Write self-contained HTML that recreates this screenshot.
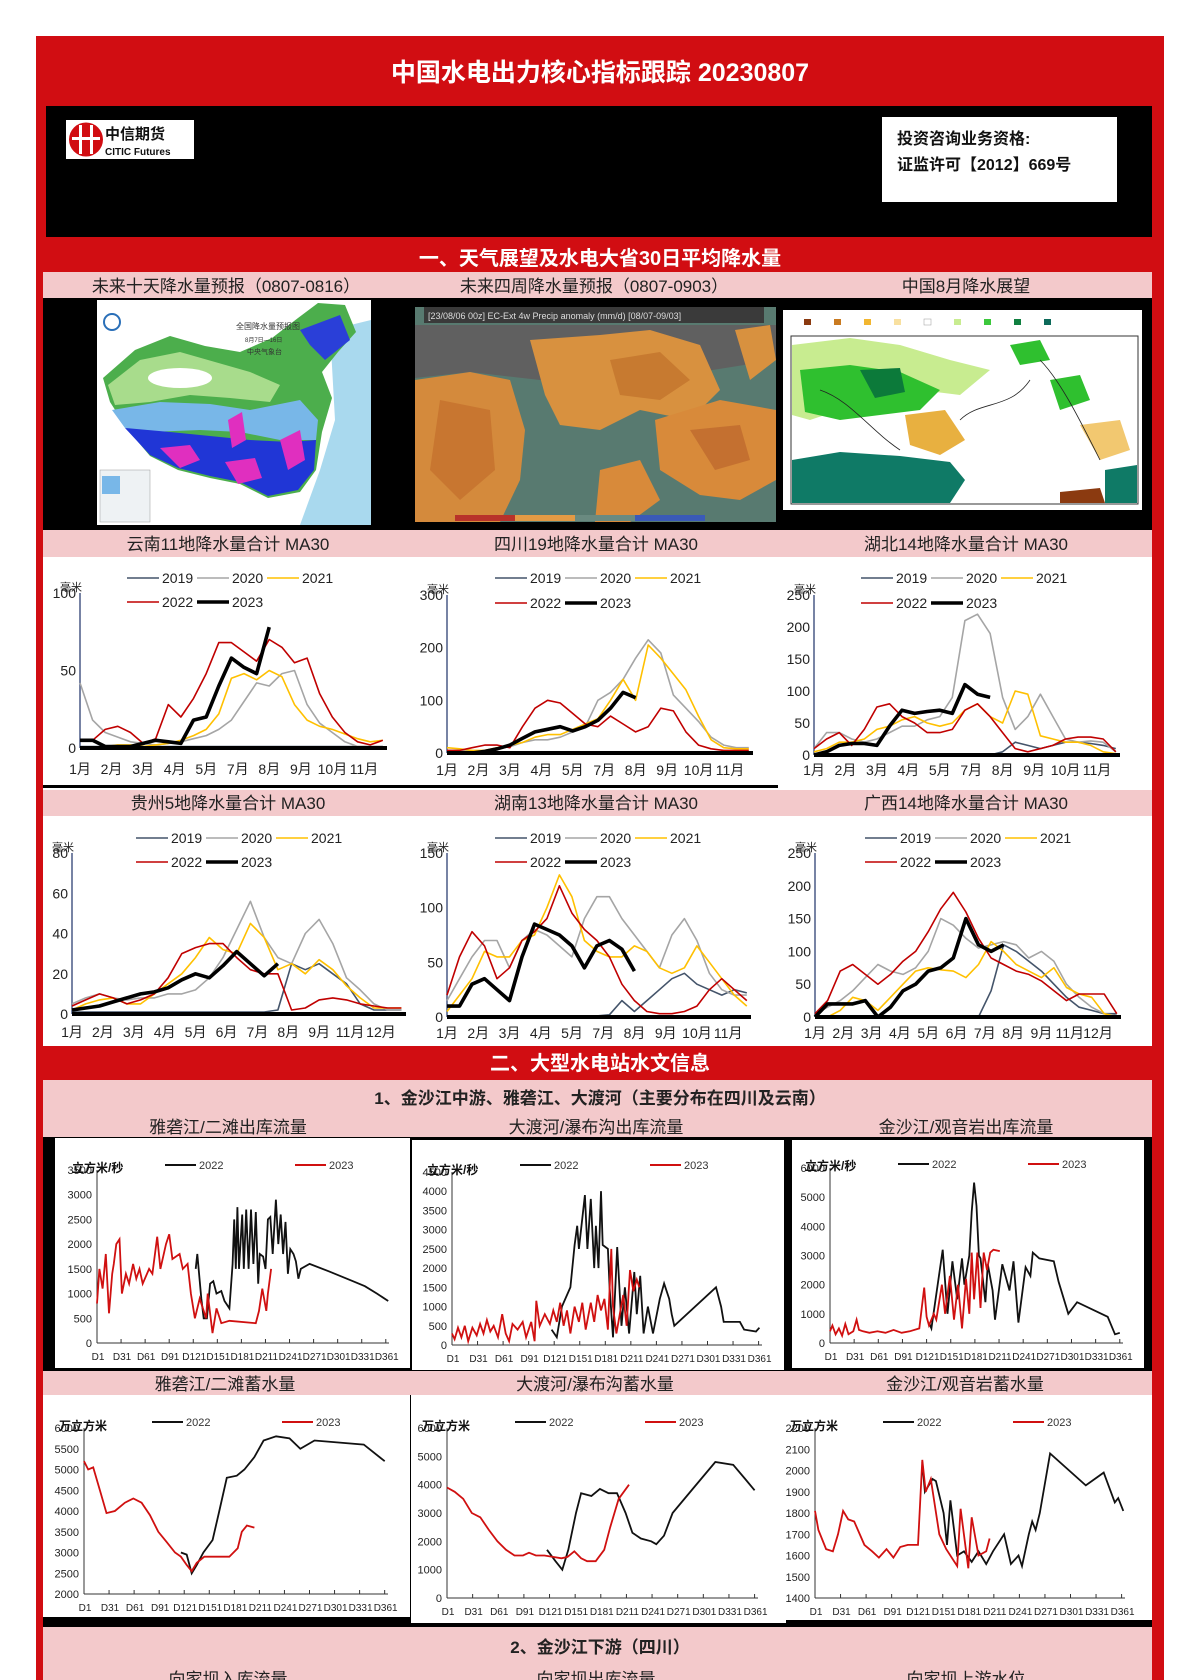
<!DOCTYPE html>
<html lang="zh">
<head>
<meta charset="utf-8">
<title>中国水电出力核心指标跟踪 20230807</title>
<style>
html,body{margin:0;padding:0;background:#fff;}
body{width:1188px;height:1680px;overflow:hidden;font-family:"Liberation Sans","Noto Sans CJK SC",sans-serif;}
svg{display:block;}
svg text{font-family:"Liberation Sans","Noto Sans CJK SC",sans-serif;}
</style>
</head>
<body>
<svg id="page" width="1188" height="1680" viewBox="0 0 1188 1680" xmlns="http://www.w3.org/2000/svg">
  <rect x="0" y="0" width="1188" height="1680" fill="#fff"/>
  <rect x="36" y="36" width="1128" height="1644" fill="#d10d12"/>
  <text x="600" y="81" text-anchor="middle" fill="#fff" font-size="25" font-weight="bold">中国水电出力核心指标跟踪  20230807</text>

  <!-- header black block -->
  <rect x="46" y="106" width="1106" height="131" fill="#000"/>
  <g>
    <rect x="66" y="120" width="128" height="39" fill="#fff"/>
    <circle cx="86" cy="139.5" r="17" fill="#d10d12"/>
    <rect x="79" y="125" width="3" height="29" fill="#fff"/>
    <rect x="90" y="125" width="3" height="29" fill="#fff"/>
    <rect x="72" y="137" width="28" height="3" fill="#fff"/>
    <text x="105" y="139" font-size="15" font-weight="bold" fill="#111">中信期货</text>
    <text x="105" y="155" font-size="10" font-weight="bold" fill="#111">CITIC Futures</text>
  </g>
  <rect x="882" y="117" width="235" height="85" fill="#fff"/>
  <text x="897" y="144" font-size="16" font-weight="bold" fill="#111">投资咨询业务资格:</text>
  <text x="897" y="170" font-size="16" font-weight="bold" fill="#111">证监许可【2012】669号</text>

  <text x="600" y="265" text-anchor="middle" fill="#fff" font-size="20" font-weight="bold">一、天气展望及水电大省30日平均降水量</text>

  <!-- map title bar -->
  <rect x="43" y="272" width="1109" height="26" fill="#f3c9cb"/>
  <text x="226" y="292" text-anchor="middle" font-size="17" fill="#222">未来十天降水量预报（0807-0816）</text>
  <text x="594" y="292" text-anchor="middle" font-size="17" fill="#222">未来四周降水量预报（0807-0903）</text>
  <text x="966" y="292" text-anchor="middle" font-size="17" fill="#222">中国8月降水展望</text>

  <rect x="43" y="298" width="1109" height="232" fill="#000"/>

  <!-- Map 1 -->
  <g>
    <rect x="97" y="300" width="274" height="225" fill="#fff"/>
    <path d="M330,330 L371,320 L371,525 L300,525 L320,470 L335,420 Z" fill="#a9d9ee"/>
    <path d="M103,378 L135,350 L170,336 L205,346 L240,352 L272,338 L298,318 L318,303 L345,305 L356,332 L338,352 L322,372 L332,398 L322,432 L316,470 L300,492 L268,498 L240,484 L210,478 L178,470 L150,456 L128,430 L110,402 Z" fill="#4cae4c"/>
    <path d="M108,385 L140,360 L180,352 L215,362 L250,372 L280,385 L270,402 L230,398 L190,395 L150,402 L115,405 Z" fill="#a8dc8c"/>
    <ellipse cx="180" cy="378" rx="32" ry="10" fill="#fff"/>
    <path d="M300,330 L340,315 L350,340 L325,360 L310,345 Z" fill="#2a3fd8"/>
    <path d="M112,410 L160,402 L210,404 L250,410 L300,400 L318,420 L316,440 L280,440 L240,432 L200,430 L150,432 L125,428 Z" fill="#78b7e8"/>
    <path d="M125,428 L170,432 L210,436 L250,440 L290,442 L316,440 L314,470 L298,490 L268,496 L240,482 L210,476 L178,468 L150,455 Z" fill="#2036d6"/>
    <path d="M160,448 L190,445 L200,460 L180,468 Z" fill="#e02fbf"/>
    <path d="M225,462 L255,458 L262,478 L238,484 Z" fill="#e02fbf"/>
    <path d="M280,440 L300,430 L305,460 L288,470 Z" fill="#e02fbf"/>
    <path d="M228,420 L242,412 L246,440 L232,448 Z" fill="#e02fbf"/>
    <circle cx="112" cy="322" r="8" fill="none" stroke="#2a6fb8" stroke-width="2"/>
    <text x="236" y="329" font-size="8" fill="#333">全国降水量预报图</text>
    <text x="245" y="342" font-size="6" fill="#333">8月7日—16日</text>
    <text x="247" y="354" font-size="7" fill="#333">中央气象台</text>
    <rect x="100" y="470" width="50" height="52" fill="#eef2f4" stroke="#999" stroke-width="0.5"/>
    <rect x="102" y="476" width="18" height="18" fill="#78b7e8"/>
  </g>

  <!-- Map 2 -->
  <g>
    <rect x="415" y="307" width="361" height="215" fill="#587a70"/>
    <path d="M415,325 L776,325 L776,360 L700,372 L620,368 L540,380 L470,372 L415,378 Z" fill="#606060"/>
    <path d="M415,380 L470,372 L510,380 L525,430 L520,480 L500,522 L415,522 Z" fill="#d48a3c"/>
    <path d="M530,340 L600,335 L650,330 L700,345 L720,390 L690,420 L640,410 L600,430 L560,425 L545,395 Z" fill="#d8913f"/>
    <path d="M610,360 L660,352 L690,380 L660,400 L620,395 Z" fill="#c77a30"/>
    <path d="M655,420 L720,400 L776,410 L776,480 L740,500 L700,495 L660,470 Z" fill="#d88a3a"/>
    <path d="M690,430 L740,425 L750,460 L715,470 Z" fill="#c47030"/>
    <path d="M440,400 L490,410 L495,470 L460,500 L430,470 Z" fill="#c87630"/>
    <path d="M600,470 L640,460 L660,500 L630,522 L595,522 Z" fill="#d88a3a"/>
    <path d="M735,330 L770,325 L776,360 L750,380 Z" fill="#d8913f"/>
    <rect x="424" y="307" width="340" height="16" fill="#3a3a3a"/>
    <text x="428" y="319" font-size="9" fill="#ddd" font-family="Liberation Mono, monospace">[23/08/06 00z] EC-Ext 4w Precip anomaly (mm/d) [08/07-09/03]</text>
    <rect x="455" y="515" width="60" height="6" fill="#b8322a"/>
    <rect x="515" y="515" width="60" height="6" fill="#e39a45"/>
    <rect x="575" y="515" width="60" height="6" fill="#6a8a80"/>
    <rect x="635" y="515" width="70" height="6" fill="#3a5ab8"/>
  </g>

  <!-- Map 3 -->
  <g>
    <rect x="783" y="310" width="359" height="200" fill="#fff"/>
    <g>
      <rect x="804" y="319" width="7" height="6" fill="#8b3a10"/>
      <rect x="834" y="319" width="7" height="6" fill="#c97a20"/>
      <rect x="864" y="319" width="7" height="6" fill="#f2b630"/>
      <rect x="894" y="319" width="7" height="6" fill="#f8e0a0"/>
      <rect x="924" y="319" width="7" height="6" fill="#fff" stroke="#999" stroke-width="0.5"/>
      <rect x="954" y="319" width="7" height="6" fill="#c8ec90"/>
      <rect x="984" y="319" width="7" height="6" fill="#3cc83c"/>
      <rect x="1014" y="319" width="7" height="6" fill="#108040"/>
      <rect x="1044" y="319" width="7" height="6" fill="#0d6a5a"/>
    </g>
    <rect x="791" y="336" width="347" height="168" fill="#fff" stroke="#333" stroke-width="1"/>
    <path d="M792,345 L850,338 L900,345 L950,360 L990,370 L960,395 L920,390 L880,400 L840,410 L810,420 L792,415 Z" fill="#c8ec90"/>
    <path d="M800,370 L850,365 L900,372 L940,390 L920,410 L880,415 L840,420 L805,412 Z" fill="#2fc02f"/>
    <path d="M860,370 L900,368 L905,392 L875,398 Z" fill="#0c7a3a"/>
    <path d="M1050,380 L1080,375 L1090,400 L1060,410 Z" fill="#2fc02f"/>
    <path d="M1010,345 L1040,340 L1050,360 L1020,365 Z" fill="#2fc02f"/>
    <path d="M905,415 L945,410 L965,440 L940,455 L910,445 Z" fill="#e8b040"/>
    <path d="M1080,425 L1120,420 L1130,450 L1100,460 Z" fill="#f2c870"/>
    <path d="M792,460 L840,452 L900,456 L950,462 L965,480 L950,503 L792,503 Z" fill="#0f7a66"/>
    <path d="M1105,470 L1137,465 L1137,503 L1105,503 Z" fill="#0f7a66"/>
    <path d="M1060,492 L1100,488 L1105,503 L1060,503 Z" fill="#8b3a10"/>
    <path d="M820,390 C850,400 870,430 900,450 M960,420 C980,400 1010,410 1030,380 M1040,360 C1060,380 1080,420 1100,460" stroke="#222" stroke-width="0.8" fill="none"/>
  </g>

  <!-- Row 1/2 rainfall areas -->
  <rect x="43" y="530" width="1109" height="27" fill="#f3c9cb"/>
  <rect x="43" y="557" width="1109" height="233" fill="#fff"/>
  <rect x="43" y="785" width="735" height="3" fill="#000"/>
  <text x="228" y="550" text-anchor="middle" font-size="17" fill="#222">云南11地降水量合计  MA30</text>
  <text x="596" y="550" text-anchor="middle" font-size="17" fill="#222">四川19地降水量合计  MA30</text>
  <text x="966" y="550" text-anchor="middle" font-size="17" fill="#222">湖北14地降水量合计  MA30</text>

  <rect x="43" y="790" width="1109" height="26" fill="#f3c9cb"/>
  <rect x="43" y="816" width="1109" height="230" fill="#fff"/>
  <text x="228" y="809" text-anchor="middle" font-size="17" fill="#222">贵州5地降水量合计  MA30</text>
  <text x="596" y="809" text-anchor="middle" font-size="17" fill="#222">湖南13地降水量合计  MA30</text>
  <text x="966" y="809" text-anchor="middle" font-size="17" fill="#222">广西14地降水量合计  MA30</text>

  <text x="600" y="1070" text-anchor="middle" fill="#fff" font-size="20" font-weight="bold">二、大型水电站水文信息</text>

  <rect x="43" y="1080" width="1109" height="57" fill="#f3c9cb"/>
  <text x="600" y="1104" text-anchor="middle" font-size="17" font-weight="bold" fill="#222">1、金沙江中游、雅砻江、大渡河（主要分布在四川及云南）</text>
  <text x="228" y="1133" text-anchor="middle" font-size="17" fill="#222">雅砻江/二滩出库流量</text>
  <text x="596" y="1133" text-anchor="middle" font-size="17" fill="#222">大渡河/瀑布沟出库流量</text>
  <text x="966" y="1133" text-anchor="middle" font-size="17" fill="#222">金沙江/观音岩出库流量</text>

  <rect x="43" y="1137" width="1109" height="234" fill="#000"/>
  <rect x="55" y="1138" width="355" height="230" fill="#fff"/>
  <rect x="412" y="1140" width="372" height="230" fill="#fff"/>
  <rect x="792" y="1140" width="352" height="228" fill="#fff"/>

  <rect x="43" y="1371" width="1109" height="24" fill="#f3c9cb"/>
  <text x="225" y="1390" text-anchor="middle" font-size="17" fill="#222">雅砻江/二滩蓄水量</text>
  <text x="595" y="1390" text-anchor="middle" font-size="17" fill="#222">大渡河/瀑布沟蓄水量</text>
  <text x="965" y="1390" text-anchor="middle" font-size="17" fill="#222">金沙江/观音岩蓄水量</text>

  <rect x="43" y="1395" width="1109" height="232" fill="#000"/>
  <rect x="43" y="1395" width="367" height="222" fill="#fff"/>
  <rect x="411" y="1395" width="375" height="228" fill="#fff"/>
  <rect x="786" y="1395" width="366" height="225" fill="#fff"/>

  <rect x="43" y="1627" width="1109" height="53" fill="#f3c9cb"/>
  <text x="600" y="1653" text-anchor="middle" font-size="17" font-weight="bold" fill="#222">2、金沙江下游（四川）</text>
  <text x="228" y="1685" text-anchor="middle" font-size="17" fill="#222">向家坝入库流量</text>
  <text x="596" y="1685" text-anchor="middle" font-size="17" fill="#222">向家坝出库流量</text>
  <text x="966" y="1685" text-anchor="middle" font-size="17" fill="#222">向家坝上游水位</text>

  <g id="charts"></g>
</svg>

<script>
// ===== Rainfall charts data (MA30, mm), sampled every 15 days from Jan 1 =====
const rainYears = ['2019', '2020', '2021', '2022', '2023'];

const ynMonths = ['1月','2月','3月','4月','5月','7月','8月','9月','10月','11月'];
const ynTicks = [0, 50, 100];
const yn2019 = [1,1,1,1,1,1,1,1,1,1,1,1,1,1,1,1,1,1,1,1,1,1,1,1,1];
const yn2020 = [42,18,10,7,4,3,2,3,4,6,8,12,18,30,42,40,48,50,28,16,10,4,1,1,1];
const yn2021 = [0,0,1,2,2,1,2,3,5,8,12,22,45,48,44,50,46,28,18,14,12,9,6,4,5];
const yn2022 = [5,5,12,14,10,3,6,28,20,32,48,68,68,62,56,70,65,55,58,35,20,10,4,2,5];
const yn2023 = [5,5,1,1,1,3,5,4,3,18,20,40,58,52,48,78];

const scMonths = ['1月','2月','3月','4月','5月','7月','8月','9月','10月','11月'];
const scTicks = [0, 100, 200, 300];
const sc2019 = [1,1,1,1,1,1,1,1,1,1,1,1,1,1,1,1,1,1,1,1,1,1,1,1,1];
const sc2020 = [5,5,3,5,8,12,20,25,25,30,40,50,100,115,140,180,215,190,110,85,60,30,15,10,10];
const sc2021 = [10,8,5,5,10,15,20,30,35,35,45,55,65,100,140,100,205,180,150,120,70,25,10,8,8];
const sc2022 = [5,5,10,15,15,10,50,85,100,95,75,55,50,70,55,40,50,85,80,40,15,8,5,5,5];
const sc2023 = [0,0,0,3,8,15,28,40,45,50,42,50,62,85,115,105];

const hbMonths = ['1月','2月','3月','4月','5月','7月','8月','9月','10月','11月'];
const hbTicks = [0, 50, 100, 150, 200, 250];
const hb2019 = [0,0,0,0,0,0,0,0,0,0,0,0,0,0,0,5,20,15,10,15,20,20,18,15,10];
const hb2020 = [10,35,35,25,20,25,35,45,45,55,60,90,210,220,190,90,40,60,95,60,25,20,22,20,5];
const hb2021 = [5,10,20,20,25,40,45,55,60,50,45,50,70,80,60,50,100,95,30,25,20,20,15,5,2];
const hb2022 = [10,25,35,15,40,75,80,60,50,35,35,40,70,80,60,35,10,5,10,15,25,28,28,25,5];
const hb2023 = [0,5,15,18,18,15,45,70,65,68,70,65,110,95,90];

const gzMonths = ['1月','2月','3月','4月','5月','6月','7月','8月','9月','11月','12月'];
const gzTicks = [0, 20, 40, 60, 80];
const gz2019 = [1,1,1,1,1,1,1,1,1,1,1,1,1,1,1,2,25,22,25,20,15,5,2,2,2];
const gz2020 = [5,8,10,8,7,8,8,10,10,12,18,28,42,56,38,28,25,40,47,35,18,12,5,2,2];
const gz2021 = [2,5,7,8,5,5,10,15,20,28,38,32,30,45,38,22,25,20,27,22,14,8,3,3,3];
const gz2022 = [4,7,10,8,5,7,10,18,30,33,35,35,28,22,20,20,2,3,7,8,7,5,4,3,3];
const gz2023 = [2,3,4,6,8,10,11,13,17,20,18,24,31,25,19,25];

const hnMonths = ['1月','2月','3月','4月','5月','7月','8月','9月','10月','11月'];
const hnTicks = [0, 50, 100, 150];
const hn2019 = [1,1,1,1,1,1,1,1,1,1,1,1,1,2,15,5,15,25,35,40,30,25,20,25,22];
const hn2020 = [15,35,55,70,70,45,70,80,75,65,55,90,110,110,90,75,60,45,75,90,70,40,25,20,20];
const hn2021 = [5,20,35,60,55,55,70,75,100,130,110,70,60,55,55,65,60,45,40,45,65,50,35,20,10];
const hn2022 = [20,55,78,65,35,45,70,78,90,120,95,80,70,55,30,15,5,3,3,5,10,25,35,25,15];
const hn2023 = [10,10,30,35,25,15,55,85,80,75,65,45,65,70,62,42];

const gxMonths = ['1月','2月','3月','4月','5月','6月','7月','8月','9月','11月','12月'];
const gxTicks = [0, 50, 100, 150, 200, 250];
const gx2019 = [0,0,0,0,0,0,0,0,0,0,0,0,0,0,40,110,100,85,70,50,30,15,10,5,5];
const gx2020 = [5,15,25,40,60,80,70,65,75,100,150,140,120,105,110,115,110,90,100,85,50,30,15,5,2];
const gx2021 = [0,0,10,30,25,10,30,50,70,75,72,70,60,80,115,100,80,70,60,75,45,35,30,5,0];
const gx2022 = [5,25,70,80,65,50,65,85,100,130,165,190,160,120,90,80,70,65,55,40,25,35,35,35,5];
const gx2023 = [0,20,20,20,25,0,15,40,50,70,75,90,150,110,100,110];

// ===== Hydrology charts data: day-of-year and value =====
const dayLabels = ['D1','D31','D61','D91','D121','D151','D181','D211','D241','D271','D301','D331','D361'];
const dayLabelDays = [1,31,61,91,121,151,181,211,241,271,301,331,361];

const ylfTicks = [0,500,1000,1500,2000,2500,3000,3500];
const ylf2022Days = [124,126,131,134,138,142,146,150,156,160,166,170,172,174,176,178,182,184,187,190,193,196,199,202,204,208,211,214,217,220,224,227,230,233,236,239,242,246,249,252,255,266,290,320,335,350,364];
const ylf2022Vals = [1500,1800,900,500,500,1200,1250,1000,1050,850,700,1600,2500,1500,2750,1500,2600,1500,2700,1500,2700,1600,2650,1200,1800,1750,1500,2500,2550,1800,2900,2000,2600,1800,2450,1400,1900,1800,1650,1300,1500,1600,1450,1250,1150,1000,850];
const ylf2023Days = [1,4,8,12,16,20,22,25,29,32,37,41,46,50,54,58,66,70,76,80,87,91,95,104,108,114,118,123,129,137,139,145,150,156,166,199,203,207,212,214,218];
const ylf2023Vals = [800,1500,1100,1800,600,1400,1600,2000,2100,1000,1400,1200,1600,1300,1500,1200,1500,1400,2150,1500,2000,2200,1700,1800,1500,1600,1000,500,900,500,1000,200,700,400,450,400,650,1100,650,1000,1500];

const ddfTicks = [0,500,1000,1500,2000,2500,3000,3500,4000,4500];
const ddf2022Days = [118,124,130,140,145,148,150,157,160,164,168,170,173,176,178,184,186,190,195,200,204,209,215,218,222,226,231,237,245,250,256,259,262,311,317,320,339,344,358,362];
const ddf2022Vals = [400,200,1000,1500,2600,3100,2500,3900,2500,3800,2000,3100,2000,4000,2600,2500,1500,200,2550,500,1500,300,1900,800,1800,300,1000,300,1200,1600,1200,800,500,1500,1000,600,600,400,350,450];
const ddf2023Days = [1,4,8,12,16,20,25,30,34,38,42,46,50,55,60,64,68,72,78,84,88,94,98,100,104,110,116,120,124,128,132,136,140,145,150,154,158,164,168,172,176,180,184,188,190,194,198,202,206,210,214,218,221];
const ddf2023Vals = [300,150,450,200,500,100,450,250,550,300,650,350,500,200,800,300,100,550,400,600,200,600,100,1150,500,800,550,900,600,1100,500,900,300,1000,600,1100,400,1100,600,1300,900,1200,400,2500,1000,300,800,1300,500,1950,1400,1700,1500];

const jsfTicks = [0,1000,2000,3000,4000,5000,6000];
const jsf2022Days = [124,127,141,147,153,159,165,168,174,177,180,183,186,188,194,197,203,206,215,224,229,235,244,250,253,261,279,285,297,308,346,355,361];
const jsf2022Vals = [700,500,3200,1000,2800,1500,2900,2000,3000,4500,5500,4700,3000,2900,1400,2700,1800,800,2700,1800,2800,700,2600,2300,3100,2900,2800,2100,1000,1400,900,300,350];
const jsf2023Days = [1,4,8,12,16,20,24,30,34,37,42,50,60,70,80,90,100,112,118,121,124,130,133,140,144,150,155,160,165,170,174,177,180,184,188,192,196,200,204,212];
const jsf2023Vals = [400,600,300,500,250,650,300,400,800,450,400,350,400,350,450,350,400,500,1900,900,600,1000,800,2000,1000,2300,800,2000,500,2200,1000,3100,1500,3100,1200,3100,2500,3100,3200,3150];

const ylsTicks = [2000,2500,3000,3500,4000,4500,5000,5500,6000];
const yls2022Days = [117,124,130,136,144,155,163,172,184,193,205,216,231,247,260,277,336,361];
const yls2022Vals = [3000,2950,2500,2700,3000,3300,4000,4800,4850,5000,5300,5700,5800,5750,5500,5700,5600,5200];
const yls2023Days = [1,6,12,20,28,38,50,60,70,80,90,100,110,117,124,130,136,145,165,175,185,190,196,205];
const yls2023Vals = [5200,5000,5050,4500,3950,4000,4200,4300,4200,3900,3500,3250,3000,2900,2700,2550,2750,2900,2900,2900,3100,3500,3650,3600];

const ddsTicks = [0,1000,2000,3000,4000,5000,6000];
const dds2022Days = [118,128,136,143,152,158,170,180,190,200,210,218,228,240,246,255,265,290,315,336,350,361];
const dds2022Vals = [1700,1300,1000,1700,3000,3700,3600,3850,3700,3700,3000,2300,2100,2000,1900,2200,3000,3900,4800,4700,4200,3800];
const dds2023Days = [1,10,20,30,40,50,60,70,80,90,97,105,115,125,135,142,150,158,165,175,185,192,202,214];
const dds2023Vals = [3900,3750,3500,3000,2850,2400,2000,1700,1500,1500,1600,1500,1500,1450,1400,1450,1650,1400,1300,1300,1700,2500,3500,4000];

const jssTicks = [1400,1500,1600,1700,1800,1900,2000,2100,2200];
const jss2022Days = [127,130,139,143,152,156,160,168,176,185,193,202,210,223,231,240,244,252,256,260,265,277,319,340,353,357,363];
const jss2022Vals = [2040,1900,1960,1950,1800,1650,1860,1600,1620,1570,1620,1560,1620,1700,1560,1600,1550,1700,1760,1720,1800,2080,1930,1990,1850,1870,1810];
const jss2023Days = [1,5,14,22,28,34,40,47,59,68,76,85,93,101,110,122,127,131,137,147,155,168,172,181,185,193,202,206];
const jss2023Vals = [1810,1720,1630,1620,1700,1810,1770,1760,1650,1620,1590,1630,1590,1640,1650,1650,2050,1900,1960,1700,1630,1550,1820,1540,1780,1600,1620,1680];

// ===== drawing =====
const NS = 'http://www.w3.org/2000/svg';
const root = document.getElementById('charts');
const rainColors = ['#44546a', '#a5a5a5', '#ffc000', '#c00000', '#000000'];
const rainWidths = [1.6, 1.6, 1.6, 1.6, 3.6];

function mk(tag, parent) {
  const e = document.createElementNS(NS, tag);
  parent.appendChild(e);
  return e;
}

function drawRain(key, x0, x1, yTop, yBot, ticks, months, series, legendDx, legY1, legY2, labelY) {
  const g = mk('g', root);
  
  
  const ymax = ticks[ticks.length - 1];
  const sx = d => x0 + d / 365 * (x1 - x0);
  const sy = v => yBot - v / ymax * (yBot - yTop);
  const ax = mk('line', g);
  
  
  ax.setAttribute('x1', x0); ax.setAttribute('x2', x0);
  ax.setAttribute('y1', yTop); ax.setAttribute('y2', yBot);
  ax.setAttribute('stroke', '#4a5a86'); ax.setAttribute('stroke-width', '1.5');
  for (const t of ticks) {
    const tx = mk('text', g);
    
    
    tx.setAttribute('x', x0 - 4); tx.setAttribute('y', sy(t) + 5);
    tx.setAttribute('text-anchor', 'end'); tx.setAttribute('font-size', '14'); tx.setAttribute('fill', '#222');
    tx.textContent = t;
  }
  const un = mk('text', g);
  
  
  un.setAttribute('x', x0 - 20); un.setAttribute('y', yTop - 2);
  un.setAttribute('font-size', '11'); un.setAttribute('fill', '#222');
  un.textContent = '毫米';
  const sp = (x1 - x0) * 0.925 / (months.length - 1);
  months.forEach((m, i) => {
    const tx = mk('text', g);
    
    
    tx.setAttribute('x', x0 + i * sp); tx.setAttribute('y', labelY);
    tx.setAttribute('text-anchor', 'middle'); tx.setAttribute('font-size', '14'); tx.setAttribute('fill', '#222');
    tx.textContent = m;
  });
  series.forEach((vals, si) => {
    const p = mk('polyline', g);
    
    
    p.setAttribute('points', vals.map((v, i) => sx(i * 15).toFixed(1) + ',' + sy(v).toFixed(1)).join(' '));
    p.setAttribute('fill', 'none'); p.setAttribute('stroke', rainColors[si]);
    p.setAttribute('stroke-width', rainWidths[si]); p.setAttribute('stroke-linejoin', 'round');
  });
  const base = mk('line', g);
  
  
  base.setAttribute('x1', x0); base.setAttribute('x2', x1);
  base.setAttribute('y1', yBot); base.setAttribute('y2', yBot);
  base.setAttribute('stroke', '#000'); base.setAttribute('stroke-width', '4');
  rainYears.forEach((yr, i) => {
    const row = i < 3 ? 0 : 1;
    const col = i < 3 ? i : i - 3;
    const lx = x0 + legendDx + col * 70;
    const ly = row === 0 ? legY1 : legY2;
    const l = mk('line', g);
    
    
    l.setAttribute('x1', lx); l.setAttribute('x2', lx + 32);
    l.setAttribute('y1', ly); l.setAttribute('y2', ly);
    l.setAttribute('stroke', rainColors[i]); l.setAttribute('stroke-width', rainWidths[i]);
    const t = mk('text', g);
    
    
    t.setAttribute('x', lx + 35); t.setAttribute('y', ly + 5);
    t.setAttribute('font-size', '14'); t.setAttribute('fill', '#222');
    t.textContent = yr;
  });
}

function drawHydro(key, x0, x1, yTop, yBot, ticks, unit, legY, s22d, s22v, s23d, s23v) {
  const g = mk('g', root);
  
  
  const ymin = ticks[0], ymax = ticks[ticks.length - 1];
  const sx = d => x0 + (d - 1) / 364 * (x1 - x0);
  const sy = v => yBot - (v - ymin) / (ymax - ymin) * (yBot - yTop);
  const ay = mk('line', g);
  
  
  ay.setAttribute('x1', x0); ay.setAttribute('x2', x0); ay.setAttribute('y1', yTop); ay.setAttribute('y2', yBot);
  ay.setAttribute('stroke', '#333'); ay.setAttribute('stroke-width', '1');
  const axx = mk('line', g);
  
  
  axx.setAttribute('x1', x0); axx.setAttribute('x2', x1); axx.setAttribute('y1', yBot); axx.setAttribute('y2', yBot);
  axx.setAttribute('stroke', '#333'); axx.setAttribute('stroke-width', '1');
  for (const t of ticks) {
    const tx = mk('text', g);
    
    
    tx.setAttribute('x', x0 - 5); tx.setAttribute('y', sy(t) + 4);
    tx.setAttribute('text-anchor', 'end'); tx.setAttribute('font-size', '11'); tx.setAttribute('fill', '#222');
    tx.textContent = t;
  }
  dayLabels.forEach((lab, i) => {
    const x = sx(dayLabelDays[i]);
    const tk = mk('line', g);
    
    
    tk.setAttribute('x1', x); tk.setAttribute('x2', x); tk.setAttribute('y1', yBot); tk.setAttribute('y2', yBot - 4);
    tk.setAttribute('stroke', '#333');
    const tx = mk('text', g);
    
    
    tx.setAttribute('x', x + 1); tx.setAttribute('y', yBot + 17);
    tx.setAttribute('text-anchor', 'middle'); tx.setAttribute('font-size', '10'); tx.setAttribute('fill', '#222');
    tx.textContent = lab;
  });
  const un = mk('text', g);
  
  
  un.setAttribute('x', x0 - 25); un.setAttribute('y', yTop + 2);
  un.setAttribute('font-size', '12'); un.setAttribute('font-weight', 'bold'); un.setAttribute('fill', '#111');
  un.textContent = unit;
  const p22 = mk('polyline', g);
  
  
  p22.setAttribute('points', s22d.map((d, i) => sx(d).toFixed(1) + ',' + sy(s22v[i]).toFixed(1)).join(' '));
  p22.setAttribute('fill', 'none'); p22.setAttribute('stroke', '#111'); p22.setAttribute('stroke-width', '1.8');
  const p23 = mk('polyline', g);
  
  
  p23.setAttribute('points', s23d.map((d, i) => sx(d).toFixed(1) + ',' + sy(s23v[i]).toFixed(1)).join(' '));
  p23.setAttribute('fill', 'none'); p23.setAttribute('stroke', '#d01010'); p23.setAttribute('stroke-width', '1.8');
  const legs = [['2022', '#111', 68], ['2023', '#d01010', 198]];
  for (const [yr, c, dx] of legs) {
    const l = mk('line', g);
    
    
    l.setAttribute('x1', x0 + dx); l.setAttribute('x2', x0 + dx + 31);
    l.setAttribute('y1', legY); l.setAttribute('y2', legY);
    l.setAttribute('stroke', c); l.setAttribute('stroke-width', '2');
    const t = mk('text', g);
    
    
    t.setAttribute('x', x0 + dx + 34); t.setAttribute('y', legY + 4);
    t.setAttribute('font-size', '11'); t.setAttribute('fill', '#333');
    t.textContent = yr;
  }
}

drawRain('yunnan', 80, 387, 593, 748, ynTicks, ynMonths, [yn2019, yn2020, yn2021, yn2022, yn2023], 47, 578, 602, 774);
drawRain('sichuan', 447, 753, 595, 753, scTicks, scMonths, [sc2019, sc2020, sc2021, sc2022, sc2023], 48, 578, 603, 775);
drawRain('hubei', 814, 1120, 595, 755, hbTicks, hbMonths, [hb2019, hb2020, hb2021, hb2022, hb2023], 47, 578, 603, 775);
drawRain('guizhou', 72, 406, 853, 1014, gzTicks, gzMonths, [gz2019, gz2020, gz2021, gz2022, gz2023], 64, 838, 862, 1037);
drawRain('hunan', 447, 751, 853, 1017, hnTicks, hnMonths, [hn2019, hn2020, hn2021, hn2022, hn2023], 48, 838, 862, 1038);
drawRain('guangxi', 815, 1121, 853, 1017, gxTicks, gxMonths, [gx2019, gx2020, gx2021, gx2022, gx2023], 50, 838, 862, 1038);

drawHydro('yalong-outflow', 97, 389, 1170, 1343, ylfTicks, '立方米/秒', 1165, ylf2022Days, ylf2022Vals, ylf2023Days, ylf2023Vals);
drawHydro('dadu-outflow', 452, 762, 1172, 1345, ddfTicks, '立方米/秒', 1165, ddf2022Days, ddf2022Vals, ddf2023Days, ddf2023Vals);
drawHydro('jinsha-outflow', 830, 1123, 1168, 1343, jsfTicks, '立方米/秒', 1164, jsf2022Days, jsf2022Vals, jsf2023Days, jsf2023Vals);
drawHydro('yalong-storage', 84, 388, 1428, 1594, ylsTicks, '万立方米', 1422, yls2022Days, yls2022Vals, yls2023Days, yls2023Vals);
drawHydro('dadu-storage', 447, 758, 1428, 1598, ddsTicks, '万立方米', 1422, dds2022Days, dds2022Vals, dds2023Days, dds2023Vals);
drawHydro('jinsha-storage', 815, 1125, 1428, 1598, jssTicks, '万立方米', 1422, jss2022Days, jss2022Vals, jss2023Days, jss2023Vals);
</script>
</body>
</html>
